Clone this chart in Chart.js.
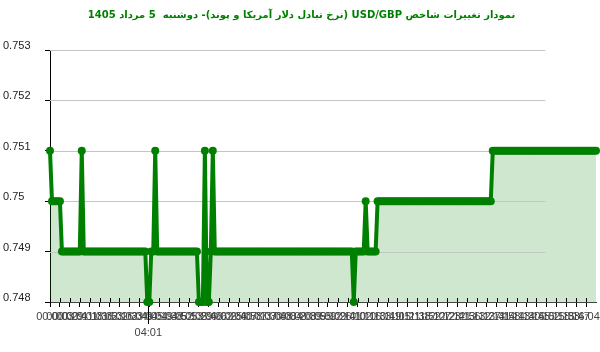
<!DOCTYPE html>
<html lang="fa">
<head>
<meta charset="utf-8">
<title>USD/GBP</title>
<script src="https://cdn.jsdelivr.net/npm/chart.js@4.4.1/dist/chart.umd.min.js"></script>
<style>
  html, body { margin: 0; padding: 0; background: #fff; }
  #wrap { width: 600px; height: 352px; position: relative; }
</style>
</head>
<body>
<div id="wrap"><canvas id="chart" dir="rtl"></canvas></div>
<script>
// ---------- Data ----------
const chartTitle = "نمودار تغییرات شاخص USD/GBP (نرخ تبادل دلار آمریکا و پوند)- دوشنبه  5 مرداد 1405";

// one value per sample, left to right
const rates = [
  0.751, 0.75, 0.75, 0.75, 0.75, 0.75, 0.749, 0.749, 0.749, 0.749, 0.749, 0.749, 0.749, 0.749, 0.749, 0.749, 0.751, 0.749, 0.749, 0.749,
  0.749, 0.749, 0.749, 0.749, 0.749, 0.749, 0.749, 0.749, 0.749, 0.749, 0.749, 0.749, 0.749, 0.749, 0.749, 0.749, 0.749, 0.749, 0.749, 0.749,
  0.749, 0.749, 0.749, 0.749, 0.749, 0.749, 0.749, 0.749, 0.749, 0.748, 0.748, 0.749, 0.749, 0.751, 0.749, 0.749, 0.749, 0.749, 0.749, 0.749,
  0.749, 0.749, 0.749, 0.749, 0.749, 0.749, 0.749, 0.749, 0.749, 0.749, 0.749, 0.749, 0.749, 0.749, 0.749, 0.748, 0.748, 0.748, 0.751, 0.748,
  0.748, 0.749, 0.751, 0.749, 0.749, 0.749, 0.749, 0.749, 0.749, 0.749, 0.749, 0.749, 0.749, 0.749, 0.749, 0.749, 0.749, 0.749, 0.749, 0.749,
  0.749, 0.749, 0.749, 0.749, 0.749, 0.749, 0.749, 0.749, 0.749, 0.749, 0.749, 0.749, 0.749, 0.749, 0.749, 0.749, 0.749, 0.749, 0.749, 0.749,
  0.749, 0.749, 0.749, 0.749, 0.749, 0.749, 0.749, 0.749, 0.749, 0.749, 0.749, 0.749, 0.749, 0.749, 0.749, 0.749, 0.749, 0.749, 0.749, 0.749,
  0.749, 0.749, 0.749, 0.749, 0.749, 0.749, 0.749, 0.749, 0.749, 0.749, 0.749, 0.749, 0.749, 0.748, 0.749, 0.749, 0.749, 0.749, 0.749, 0.75,
  0.749, 0.749, 0.749, 0.749, 0.749, 0.75, 0.75, 0.75, 0.75, 0.75, 0.75, 0.75, 0.75, 0.75, 0.75, 0.75, 0.75, 0.75, 0.75, 0.75,
  0.75, 0.75, 0.75, 0.75, 0.75, 0.75, 0.75, 0.75, 0.75, 0.75, 0.75, 0.75, 0.75, 0.75, 0.75, 0.75, 0.75, 0.75, 0.75, 0.75,
  0.75, 0.75, 0.75, 0.75, 0.75, 0.75, 0.75, 0.75, 0.75, 0.75, 0.75, 0.75, 0.75, 0.75, 0.75, 0.75, 0.75, 0.75, 0.75, 0.75,
  0.75, 0.75, 0.75, 0.751, 0.751, 0.751, 0.751, 0.751, 0.751, 0.751, 0.751, 0.751, 0.751, 0.751, 0.751, 0.751, 0.751, 0.751, 0.751, 0.751,
  0.751, 0.751, 0.751, 0.751, 0.751, 0.751, 0.751, 0.751, 0.751, 0.751, 0.751, 0.751, 0.751, 0.751, 0.751, 0.751, 0.751, 0.751, 0.751, 0.751,
  0.751, 0.751, 0.751, 0.751, 0.751, 0.751, 0.751, 0.751, 0.751, 0.751, 0.751, 0.751, 0.751, 0.751, 0.751, 0.751
];

// tick labels, one for every 5 samples (they overlap, as in the original)
const xLabels = [
  "00:00", "00:03", "00:29", "00:41", "01:18", "01:36", "01:53", "02:16", "02:33", "02:49",
  "04:05", "04:19", "04:38", "04:52", "05:13", "05:29", "05:46", "06:02", "06:25", "06:40",
  "06:58", "07:13", "07:30", "07:48", "08:04", "08:20", "08:39", "08:55", "09:12", "09:26",
  "09:41", "10:02", "10:16", "10:33", "10:49", "11:05", "11:21", "11:38", "11:52", "12:07",
  "12:23", "12:41", "12:56", "13:12", "13:27", "13:41", "13:58", "14:13", "14:30", "14:45",
  "15:02", "15:18", "15:33", "15:47", "16:04"
];
const xMarkerLabel = "04:01";
const xMarkerAt = 49.5;

const yMin = 0.748;
const yMax = 0.753;
const yStep = 0.001;

// ---------- Helpers ----------
const GREEN = "#008000";
const FONT = "Arial, 'Liberation Sans', sans-serif";

// grid lines stop short of the right edge, axis ticks cross the baseline,
// and the single marker tick with its second-row label
const gridAndMarks = {
  id: "gridAndMarks",
  beforeDatasetDraw(chart, args, opts) {
    if (args.index !== 0) return;
    const { ctx, chartArea, scales: { x, y } } = chart;
    const xEnd = x.getPixelForValue(opts.gridEnd);
    ctx.save();
    ctx.lineWidth = 1;
    ctx.strokeStyle = opts.gridColor;
    y.ticks.forEach(t => {
      if (t.value <= y.min + 1e-9) return;
      const py = Math.round(y.getPixelForValue(t.value)) + 0.5;
      ctx.beginPath();
      ctx.moveTo(chartArea.left, py);
      ctx.lineTo(xEnd, py);
      ctx.stroke();
    });

    ctx.strokeStyle = "#000";
    const b = chartArea.bottom;
    x.ticks.forEach(t => {
      if (t.value >= x.max) return;
      const px = Math.round(x.getPixelForValue(t.value)) + 0.5;
      ctx.beginPath();
      ctx.moveTo(px, b - 4);
      ctx.lineTo(px, b);
      ctx.stroke();
    });

    const mx = Math.round(x.getPixelForValue(opts.markerAt)) + 0.5;
    ctx.beginPath();
    ctx.moveTo(mx, b - 4);
    ctx.lineTo(mx, b + 22);
    ctx.stroke();
    ctx.restore();
  },
  afterDraw(chart, args, opts) {
    const { ctx, chartArea, scales: { x } } = chart;
    ctx.save();
    ctx.direction = "ltr";
    ctx.font = `11px ${FONT}`;
    ctx.fillStyle = "#444";
    ctx.textAlign = "center";
    ctx.textBaseline = "middle";
    ctx.fillText(opts.markerLabel, x.getPixelForValue(opts.markerAt), chartArea.bottom + 31);
    ctx.restore();
  }
};

new Chart(document.getElementById("chart"), {
  type: "line",
  data: {
    datasets: [{
      data: rates.map((v, i) => ({ x: i, y: v })),
      borderColor: GREEN,
      borderWidth: 4,
      backgroundColor: "rgba(0,128,0,0.19)",
      fill: "start",
      pointRadius: 4,
      pointBorderWidth: 0,
      pointBackgroundColor: GREEN,
      tension: 0,
      clip: false,
    }],
  },
  options: {
    responsive: true,
    maintainAspectRatio: false,
    animation: false,
    layout: { padding: { left: 3, right: 0, top: 0, bottom: 0 } },
    scales: {
      x: {
        type: "linear",
        min: 0,
        max: rates.length - 1,
        afterFit(scale) {
          scale.height = 50;
          scale.paddingLeft = 0;
          scale.paddingRight = 0;
        },
        grid: { drawOnChartArea: false, tickLength: 5, color: "#000" },
        border: { color: "#444" },
        ticks: {
          stepSize: 5,
          autoSkip: false,
          maxRotation: 0,
          minRotation: 0,
          padding: 3,
          color: "#444",
          font: { family: FONT, size: 11 },
          callback: (v) => xLabels[Math.round(v / 5)] ?? null,
        },
      },
      y: {
        min: yMin,
        max: yMax,
        afterFit(scale) { scale.width = 47; },
        grid: { drawOnChartArea: false, tickLength: 5, color: "#000" },
        border: { color: "#000" },
        ticks: {
          stepSize: yStep,
          crossAlign: "far",
          labelOffset: -4,
          color: "#222",
          font: { family: FONT, size: 11 },
          callback: (v) => String(+v.toFixed(3)),
        },
      },
    },
    plugins: {
      legend: { display: false },
      tooltip: { enabled: false },
      filler: { drawTime: "beforeDatasetsDraw" },
      title: {
        display: true,
        text: chartTitle,
        color: GREEN,
        font: { family: "Tahoma, 'DejaVu Sans', sans-serif", size: 10, weight: "bold" },
        padding: { top: 9, bottom: 29 },
      },
      gridAndMarks: {
        gridEnd: 249.5,
        gridColor: "#c4c4c4",
        markerAt: xMarkerAt,
        markerLabel: xMarkerLabel,
      },
    },
  },
  plugins: [gridAndMarks],
});
</script>
</body>
</html>
